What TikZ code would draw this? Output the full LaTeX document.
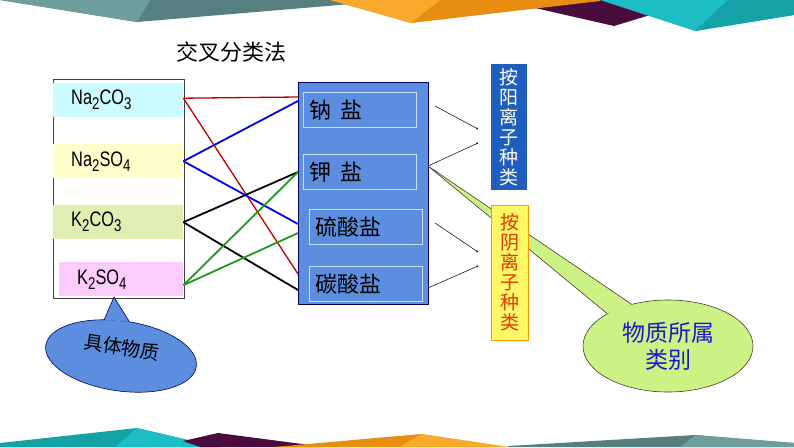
\documentclass[tikz,border=0pt]{standalone}
\usepackage{fontspec}
\setmainfont{Liberation Sans}
\newfontfamily\cjk{Noto Sans CJK SC}
\newfontfamily\narrow[FakeStretch=0.78]{Liberation Sans}
\usetikzlibrary{arrows.meta,shapes.geometric}

\newcommand\chemsub[1]{\raisebox{-5pt}{\fontsize{17}{17}\selectfont#1}}

\definecolor{tealL}{HTML}{1DBDC5}
\definecolor{tealD}{HTML}{15A2A6}
\definecolor{grayL}{HTML}{6E9D9D}
\definecolor{grayD}{HTML}{567F80}
\definecolor{orangeL}{HTML}{F8AA2C}
\definecolor{orangeD}{HTML}{E78E10}
\definecolor{plum}{HTML}{4A0B3D}
\definecolor{cyanband}{HTML}{CCFCFF}
\definecolor{yellowband}{HTML}{FFFFCC}
\definecolor{greenband}{HTML}{E0EEB4}
\definecolor{pinkband}{HTML}{FCCCFC}
\definecolor{saltfill}{HTML}{5B8EDE}
\definecolor{saltedge}{HTML}{C4E2FF}
\definecolor{cationblue}{HTML}{1F5DBE}
\definecolor{anionred}{HTML}{E23A00}
\definecolor{limefill}{HTML}{CCF285}
\definecolor{kindblue}{HTML}{1A1AC8}
\definecolor{linkred}{HTML}{C00000}
\definecolor{linkblue}{HTML}{0000E6}
\definecolor{linkgreen}{HTML}{1E9A1E}

\tikzset{
  band/.style={anchor=north west, minimum height=34pt, inner xsep=18pt, inner ysep=0pt,
    text width=94pt, align=left, font=\narrow\fontsize{21}{22}\selectfont},
  salt/.style={draw=saltedge, line width=0.7pt, anchor=north west, minimum height=35pt,
    inner xsep=6pt, inner ysep=0pt, text width=101pt, align=left,
    font=\cjk\fontsize{22}{24}\selectfont},
  tag/.style={inner sep=0pt, align=center, font=\cjk\fontsize{19}{20}\selectfont},
  link/.style={line width=1.8pt},
  pointer/.style={line width=0.5pt, -{Circle[length=1.8pt]}}
}

\begin{document}
\begin{tikzpicture}[x=1pt,y=-1pt]
  \useasboundingbox (0,0) rectangle (794,447);

  % top banner
  \fill[grayD] (0,0) -- (137,22) -- (375,2) -- (375,0) -- cycle;
  \fill[grayL] (0,0) -- (137,22) -- (150,0) -- cycle;
  \fill[plum] (500,0) -- (614,26) -- (660,12) -- (660,0) -- cycle;
  \fill[orangeD] (330,0) -- (411,23) -- (600,1) -- (600,0) -- cycle;
  \fill[orangeL] (330,0) -- (411,23) -- (440,0) -- cycle;
  \fill[tealL] (600,0) -- (695,31) -- (794,15) -- (794,0) -- cycle;
  \fill[tealD] (728,0) -- (695,31) -- (794,15) -- (794,0) -- cycle;

  % bottom banner
  \fill[tealD] (0,443) -- (137,428) -- (218,447) -- (0,447) -- cycle;
  \fill[tealL] (137,428) -- (218,447) -- (115,447) -- cycle;
  \fill[plum] (183,441) -- (218,433) -- (325,447) -- (200,447) -- cycle;
  \fill[orangeD] (274,447) -- (421,434) -- (508,447) -- cycle;
  \fill[orangeL] (421,434) -- (508,447) -- (400,447) -- cycle;
  \fill[grayD] (508,446) -- (695,435) -- (794,443) -- (794,447) -- (508,447) -- cycle;
  \fill[grayL] (695,435) -- (794,443) -- (794,447) -- (680,447) -- cycle;

  \node[font=\cjk\fontsize{22}{24}\selectfont] (title) at (231,52) {交叉分类法};

  % substances
  \node[draw=black!75, fill=white, line width=0.6pt, anchor=north west, minimum width=131pt,
    minimum height=219pt, inner sep=0pt] (subs) at (53,79) {};
  \node[band, fill=cyanband] (na2co3) at (53,83) {Na\chemsub{2}CO\chemsub{3}};
  \node[band, fill=yellowband] (na2so4) at (53,144) {Na\chemsub{2}SO\chemsub{4}};
  \node[band, fill=greenband] (k2co3) at (53,205) {K\chemsub{2}CO\chemsub{3}};
  \node[band, fill=pinkband, text width=88pt] (k2so4) at (59,262) {K\chemsub{2}SO\chemsub{4}};

  % salts
  \node[draw=black!60!blue, fill=saltfill, line width=0.6pt, anchor=north west,
    minimum width=130pt, minimum height=222pt, inner sep=0pt] (salts) at (298,82) {};
  \node[salt] (sodium) at (303,92) {钠\hspace{9pt}盐};
  \node[salt] (potassium) at (303,154) {钾\hspace{9pt}盐};
  \node[salt] (sulfate) at (309,209) {硫酸盐};
  \node[salt] (carbonate) at (309,266) {碳酸盐};

  \coordinate (inNa1) at (298,97);
  \coordinate (inNa2) at (298,101);
  \coordinate (inK) at (298,172);
  \coordinate (inS1) at (298,224);
  \coordinate (inS2) at (298,233);
  \coordinate (inC1) at (298,274);
  \coordinate (inC2) at (298,290);

  \draw[link, linkred, line width=1.3pt] ([yshift=2pt]na2co3.east) -- (inNa1);
  \draw[link, linkred, line width=1.3pt] ([yshift=2pt]na2co3.east) -- (inC1);
  \draw[link, linkblue] (na2so4.east) -- (inNa2);
  \draw[link, linkblue] (na2so4.east) -- (inS1);
  \draw[link, black] (k2co3.east) -- (inK);
  \draw[link, black] (k2co3.east) -- (inC2);
  \draw[link, linkgreen] ([yshift=-6pt]k2so4.east) -- (inK);
  \draw[link, linkgreen] ([yshift=-6pt]k2so4.east) -- (inS2);

  % callout: kinds
  \coordinate (tipG) at (428,166);
  \node[ellipse, draw=black!70!olive, fill=limefill, line width=0.6pt, minimum width=170pt,
    minimum height=92pt, inner sep=2pt, outer sep=0pt, align=center, text=kindblue,
    font=\cjk\fontsize{23}{27}\selectfont] (kind) at (668,346) {物质所属\\类别};
  \fill[limefill] (tipG) -- (kind.131) -- (kind.152) -- cycle;
  \draw[black!70!olive, line width=0.6pt] (kind.131) -- (tipG) -- (kind.152);

  % pointers to the tags
  \coordinate (out1) at (435,106);
  \coordinate (out2) at (428,166);
  \coordinate (out3) at (435,223);
  \coordinate (out4) at (428,288);
  \coordinate (end1) at (478,129);
  \coordinate (end2) at (478,143);
  \coordinate (end3) at (478,252);
  \coordinate (end4) at (478,266);
  \draw[pointer] (out1) -- (end1);
  \draw[pointer] (out2) -- (end2);
  \draw[pointer] (out3) -- (end3);
  \draw[pointer] (out4) -- (end4);

  \node[tag, fill=cationblue, text=white, minimum width=36pt, minimum height=126pt]
    (cation) at (509,127) {按\\阳\\离\\子\\种\\类};
  \node[tag, fill=yellow!60!white, draw=orange!80!yellow, line width=1pt, text=anionred,
    minimum width=37pt, minimum height=135pt] (anion) at (509.5,272.5) {按\\阴\\离\\子\\种\\类};

  % callout: substances
  \coordinate (tipB) at (114,297);
  \node[ellipse, draw=black!60!blue, fill=saltfill, line width=0.6pt, minimum width=152pt,
    minimum height=70pt, inner sep=0pt, outer sep=0pt, rotate=-8] (bodies) at (121,356) {};
  \fill[saltfill] (tipB) -- (bodies.123) -- (bodies.84) -- cycle;
  \draw[black!60!blue, line width=0.6pt] (bodies.123) -- (tipB) -- (bodies.84);
  \node[font=\cjk\fontsize{19}{20}\selectfont, rotate=-9] (bodieslbl) at (122,347) {具体物质};
\end{tikzpicture}
\end{document}
